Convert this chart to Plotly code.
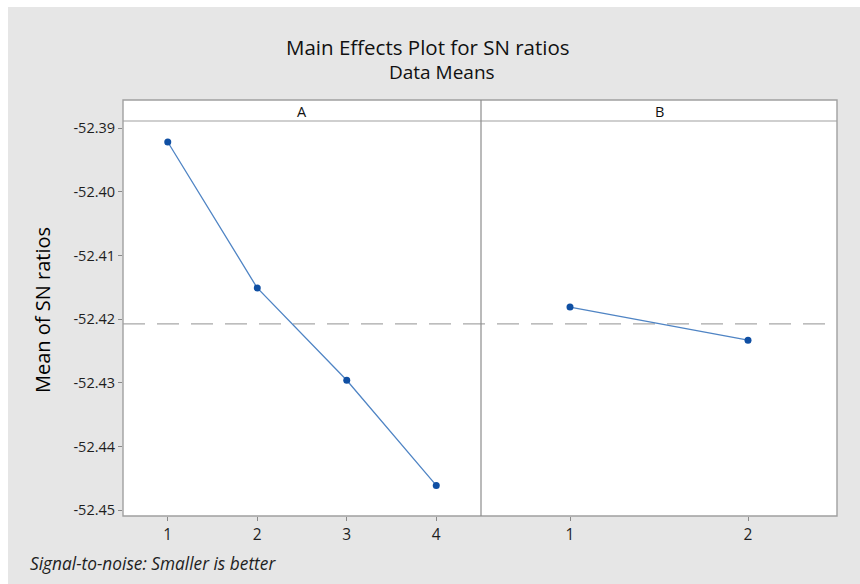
import numpy as np
import plotly.graph_objects as go

# Factor levels and mean S/N ratios (dB) per level
levels_A = [1, 2, 3, 4]
sn_A = [-52.3922, -52.4151, -52.4296, -52.4461]
levels_B = [1, 2]
sn_B = [-52.4181, -52.4233]

y_ticks = [-52.39, -52.40, -52.41, -52.42, -52.43, -52.44, -52.45]
y_ticktext = [f"{v:.2f}" for v in y_ticks]

grand_mean = float(np.mean(sn_A))

FONT = "Open Sans"
LINE_C = "#4f84c4"
MARK_C = "#0f4fa3"
BORDER_C = "#a0a0a0"
TEXT_C = "#1e1e1e"

# figure geometry (pixels) -> paper fractions
L, R, T, B = 123, 23, 121, 68
W, H = 860, 584
pw, ph = W - L - R, H - T - B
split = (481 - L) / pw
hdr_top = 1 + (T - 100) / ph


def px_x(x):
    return (x - L) / pw


def px_y(y):
    return (H - B - y) / ph


fig = go.Figure()
marker = dict(color=MARK_C, size=7, symbol="circle")
fig.add_trace(go.Scatter(x=levels_A, y=sn_A, mode="lines+markers",
                         line=dict(color=LINE_C, width=1.3), marker=marker,
                         xaxis="x", yaxis="y", showlegend=False))
fig.add_trace(go.Scatter(x=levels_B, y=sn_B, mode="lines+markers",
                         line=dict(color=LINE_C, width=1.3), marker=marker,
                         xaxis="x2", yaxis="y", showlegend=False))

axis_common = dict(showgrid=False, zeroline=False, showline=False,
                   ticks="outside", ticklen=4, tickcolor="#8a8a8a")
xfont = dict(family=FONT, size=15.5, color=TEXT_C)
yfont = dict(family=FONT, size=14.5, color=TEXT_C)

fig.update_layout(
    width=W, height=H,
    margin=dict(l=L, r=R, t=T, b=B),
    paper_bgcolor="#e6e6e6",
    plot_bgcolor="white",
    xaxis=dict(domain=[0, split], range=[0.5, 4.5], tickvals=levels_A,
               anchor="y", tickfont=xfont, **axis_common),
    xaxis2=dict(domain=[split, 1], range=[0.5, 2.5], tickvals=levels_B,
                anchor="y", tickfont=xfont, **axis_common),
    yaxis=dict(range=[-52.4509, -52.3889], tickvals=y_ticks,
               ticktext=y_ticktext, anchor="x", tickfont=yfont, **axis_common),
)

shapes = [
    # thin white frame at top and left edge of the canvas
    dict(type="rect", xref="paper", yref="paper", x0=-0.3, x1=1.2,
         y0=px_y(7), y1=px_y(-20), fillcolor="white", line_width=0, layer="below"),
    dict(type="rect", xref="paper", yref="paper", x0=-0.3, x1=px_x(8),
         y0=-0.5, y1=1.5, fillcolor="white", line_width=0, layer="below"),
    # panel header strip
    dict(type="rect", xref="paper", yref="paper", x0=0, x1=1, y0=1, y1=hdr_top,
         fillcolor="white", line_width=0, layer="below"),
    # reference line at the overall mean
    dict(type="line", xref="paper", yref="y", x0=0, x1=1,
         y0=grand_mean, y1=grand_mean,
         line=dict(color="#a8a8a8", width=1.4, dash="22px,12px"), layer="below"),
    # panel frame, header separator and panel divider
    dict(type="rect", xref="paper", yref="paper", x0=0, x1=1, y0=0, y1=hdr_top,
         line=dict(color=BORDER_C, width=1.4), layer="above"),
    dict(type="line", xref="paper", yref="paper", x0=0, x1=1, y0=1, y1=1,
         line=dict(color=BORDER_C, width=1.2)),
    dict(type="line", xref="paper", yref="paper", x0=split, x1=split,
         y0=0, y1=hdr_top, line=dict(color="#8c8c8c", width=1.2)),
]
fig.update_layout(shapes=shapes)

annotations = [
    dict(text="Main Effects Plot for SN ratios", x=px_x(428), y=px_y(47),
         font=dict(family=FONT, size=20.5, color="#111111")),
    dict(text="Data Means", x=px_x(442), y=px_y(72),
         font=dict(family=FONT, size=19, color="#111111")),
    dict(text="A", x=split / 2, y=px_y(111),
         font=dict(family=FONT, size=14.5, color="#111111")),
    dict(text="B", x=(split + 1) / 2, y=px_y(111),
         font=dict(family=FONT, size=14.5, color="#111111")),
    dict(text="Mean of SN ratios", x=px_x(42), y=px_y(310), textangle=-90,
         font=dict(family=FONT, size=20, color="#000000")),
    dict(text="<i>Signal-to-noise: Smaller is better</i>", x=px_x(28),
         y=px_y(563), xanchor="left",
         font=dict(family=FONT, size=17.3, color=TEXT_C)),
]
for a in annotations:
    a.setdefault("xanchor", "center")
    a.update(xref="paper", yref="paper", yanchor="middle", showarrow=False)
fig.update_layout(annotations=annotations)

fig.write_html("out.html")
